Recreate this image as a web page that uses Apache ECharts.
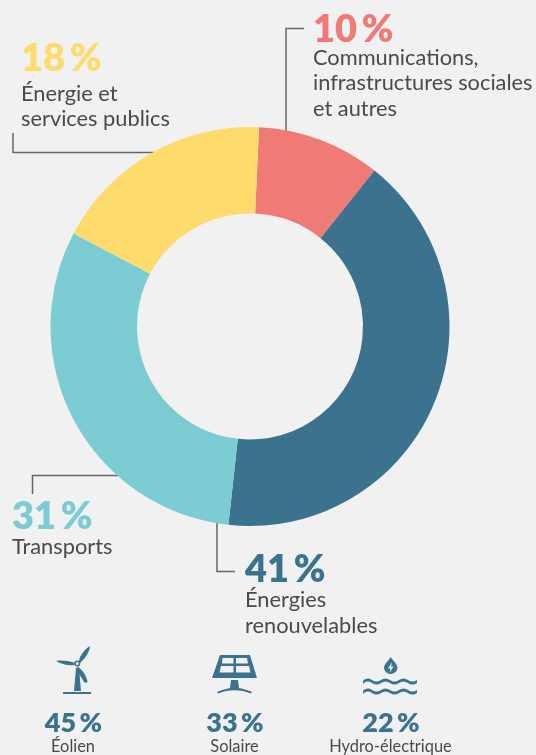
<!DOCTYPE html>
<html lang="fr">
<head>
<meta charset="utf-8">
<title>Répartition des investissements</title>
<style>html,body{margin:0;padding:0;background:#f1f1f1}#chart{width:536px;height:755px}</style>
<script src="https://cdn.jsdelivr.net/npm/echarts@6/dist/echarts.min.js"></script>
</head>
<body>
<div id="chart"></div>
<script>
// Main breakdown, clockwise from just right of twelve o'clock
const sectors = ['Communications, infrastructures sociales et autres', 'Énergies renouvelables', 'Transports', 'Énergie et services publics'];
const shares = [10, 41, 31, 18];
const sectorColors = ['#f07a76', '#3b738f', '#7bccd3', '#fddb6d'];
const sectorLines = [
  ['Communications,', 'infrastructures sociales', 'et autres'],
  ['Énergies', 'renouvelables'],
  ['Transports'],
  ['Énergie et', 'services publics']
];

// Renewable energy detail
const renewables = ['Éolien', 'Solaire', 'Hydro-électrique'];
const renewableShares = [45, 33, 22];

const ink = '#4a4a4a';
const rule = '#666666';
const teal = '#3b738f';
const fontFamily = 'Lato, sans-serif';
const pct = v => v + '\u2009%';

// Callout blocks: anchor of the figure, then the caption rows below it
const callouts = [
  { i: 0, x: 313, y: 29.5, lineY: 57.5 },
  { i: 1, x: 245, y: 569.5, lineY: 600 },
  { i: 2, x: 12, y: 516.5, lineY: 547 },
  { i: 3, x: 21, y: 59, lineY: 93.5 }
];
const leaders = [
  [[286, 131], [286, 28.5], [304, 28.5]],
  [[217, 522], [217, 571.5], [235, 571.5]],
  [[118, 475.5], [32.5, 475.5], [32.5, 494]],
  [[13, 133], [13, 152.5], [154, 152.5]]
];

const elements = [];
callouts.forEach(c => {
  elements.push({
    type: 'text', x: c.x, y: c.y,
    style: { text: pct(shares[c.i]), fill: sectorColors[c.i], font: `800 38px ${fontFamily}`, textVerticalAlign: 'middle' }
  });
  sectorLines[c.i].forEach((row, k) => elements.push({
    type: 'text', x: c.x, y: c.lineY + k * 25.7,
    style: { text: row, fill: ink, font: `400 21.8px ${fontFamily}`, textVerticalAlign: 'middle' }
  }));
});
leaders.forEach(points => elements.push({
  type: 'polyline', shape: { points }, silent: true,
  style: { stroke: rule, lineWidth: 1.5, fill: null }
}));

// Renewable columns with their pictograms
const columnX = [73.5, 235, 391];
renewables.forEach((name, i) => {
  elements.push({
    type: 'text', x: columnX[i], y: 723,
    style: { text: pct(renewableShares[i]), fill: teal, font: `800 27px ${fontFamily}`, textAlign: 'center', textVerticalAlign: 'middle' }
  });
  elements.push({
    type: 'text', x: columnX[i] - 0.5, y: 746.5,
    style: { text: name, fill: ink, font: `400 16.4px ${fontFamily}`, textAlign: 'center', textVerticalAlign: 'middle' }
  });
});

const iconPaths = {
  turbineIcon: 'M76 668 L79 668 L81 691 L74 691 Z M63 692 H91 V694 H63 Z M56 661 C62 660 70 661 75 663 L74 665 C68 666 61 664 56 661 Z M79 661 C80 655 85 649 90 646 C90 651 85 659 80 663 Z M78 667 C83 670 87 677 87.5 682 C86 683 85 683 84 682 C81 677 78 672 76 668 Z',
  solarIcon: 'M220 655 H250 L257 678 H212 Z M222.5 658 L222 663.5 H233.5 V658 Z M236 658 V663.5 H248 L247 658 Z M221 666 L219.5 672.5 H233.5 V666 Z M236 666 V672.5 H250.5 L249 666 Z M231 680 H238 L239 688 C244 689 248 690 252 692 L251 693.5 C241 689 228 689 218 693.5 L217 692 C221 690 226 689 230 688 Z',
  hydroIcon: 'M390.7 657 C393 661 397.5 664 397.5 668 A6.8 6.8 0 0 1 384 668 C384 664 388.5 661 390.7 657 Z M392 662 L388 668.5 H390.5 L389.5 673 L393.5 666.5 H391 Z M363 681 C366 678 369 678 372 680 C375 682 378 682 381 680 C384 678 387 678 390 680 C393 682 396 682 399 680 C402 678 405 678 408 680 C411 682 414 682 417 680 V683 C414 685 411 685 408 683 C405 681 402 681 399 683 C396 685 393 685 390 683 C387 681 384 681 381 683 C378 685 375 685 372 683 C369 681 366 681 363 684 Z M363 691 C366 688 369 688 372 690 C375 692 378 692 381 690 C384 688 387 688 390 690 C393 692 396 692 399 690 C402 688 405 688 408 690 C411 692 414 692 417 690 V693 C414 695 411 695 408 693 C405 691 402 691 399 693 C396 695 393 695 390 693 C387 691 384 691 381 693 C378 695 375 695 372 693 C369 691 366 691 363 694 Z'
};
Object.keys(iconPaths).forEach(name => {
  // Pictograms are registered as custom shapes so the graphic component can draw them
  echarts.graphic.registerShape(name, echarts.graphic.extendPath(iconPaths[name], {}));
  elements.push({ type: name, silent: true, style: { fill: teal, fillRule: 'evenodd' } });
});
elements.push({ type: 'circle', shape: { cx: 77.3, cy: 663.5, r: 2.3 }, style: { fill: '#f1f1f1', stroke: teal, lineWidth: 1.5 } });

const chart = echarts.init(document.getElementById('chart'), null, { renderer: 'canvas' });
chart.setOption({
  backgroundColor: '#f1f1f1',
  animation: false,
  textStyle: { fontFamily },
  series: [{
    type: 'pie',
    center: [250, 326.5],
    radius: [113, 199.5],
    startAngle: 87.4,
    clockwise: true,
    silent: true,
    label: { show: false },
    labelLine: { show: false },
    data: sectors.map((name, i) => ({ name, value: shares[i], itemStyle: { color: sectorColors[i] } }))
  }],
  graphic: { elements }
});
</script>
</body>
</html>
